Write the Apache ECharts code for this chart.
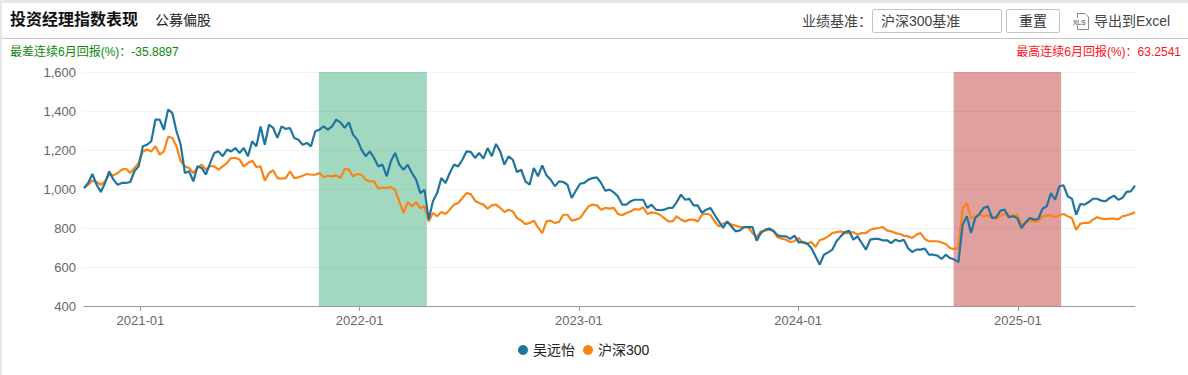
<!DOCTYPE html>
<html lang="zh-CN">
<head>
<meta charset="utf-8">
<title>投资经理指数表现</title>
<script src="https://cdn.jsdelivr.net/npm/echarts@6/dist/echarts.min.js"></script>
<style>
html,body{margin:0;padding:0;width:1188px;height:375px;overflow:hidden;background:#e6e6e6;font-family:"Liberation Sans","Noto Sans CJK SC",sans-serif;}
#card{position:absolute;left:2px;top:3px;width:1186px;height:372px;background:#fff;}
#chart{position:absolute;left:0;top:0;width:1188px;height:375px;}
.t{position:absolute;white-space:nowrap;line-height:1;}
#rule{position:absolute;left:2px;top:38px;width:1186px;height:1px;background:#c8c8c8;}
.box{position:absolute;box-sizing:border-box;border:1px solid #c4c4c4;border-radius:2px;background:#fff;}
</style>
</head>
<body>
<div id="card"></div>
<div id="chart"></div>
<div id="rule"></div>
<div class="t" style="left:10px;top:12px;font-size:16px;font-weight:bold;color:#111">投资经理指数表现</div>
<div class="t" style="left:155px;top:13px;font-size:14px;color:#222">公募偏股</div>
<div class="t" style="left:802px;top:14px;font-size:14px;color:#444">业绩基准：</div>
<div class="box" style="left:872px;top:9px;width:130px;height:24px"></div>
<div class="t" style="left:881px;top:14px;font-size:14px;color:#444">沪深300基准</div>
<div class="box" style="left:1006px;top:9px;width:54px;height:24px"></div>
<div class="t" style="left:1019px;top:14px;font-size:14px;color:#333">重置</div>
<svg style="position:absolute;left:1073px;top:13px" width="17" height="17" viewBox="0 0 17 17">
<path d="M4.5 .5H12L15.5 4V16.5H4.5V12M4.500 5V.5" fill="#fff" stroke="#888" stroke-width="1"/>
<text x="0" y="11.500" font-size="6.500" font-weight="bold" fill="#777" font-family="Liberation Sans">XLS</text>
</svg>
<div class="t" style="left:1094px;top:14px;font-size:14px;color:#444">导出到Excel</div>
<div class="t" style="left:10px;top:46px;font-size:12px;color:#0a8a0a">最差连续6月回报(%)：-35.8897</div>
<div class="t" style="right:7px;top:46px;font-size:12px;color:#ff1020">最高连续6月回报(%)：63.2541</div>
<script>
const seriesNames = ['吴远怡', '沪深300'];
const firstDate = '2020-09-29';
const stepDays = 7;
const tickLabels = ['2021-01', '2022-01', '2023-01', '2024-01', '2025-01'];
const worstSpan = ['2021-10-25', '2022-04-23'];
const bestSpan = ['2024-09-16', '2025-03-14'];
const wuYuanyi = [
1005,1031,1077,1022,985,1031,1091,1048,1022,1031,1031,1036,1091,1116,1219,1227,1245,1356,1356,1304,1407,1390,1296,1227,1082,1091,1039,1116,1108,1074,1133,1185,1193,1168,1202,1193,1210,1185,1210,1168,1245,1219,1321,
1227,1330,1313,1262,1321,1308,1313,1262,1253,1227,1236,1219,1296,1304,1321,1304,1321,1356,1342,1313,1342,1279,1253,1202,1168,1193,1159,1116,1125,1065,1142,1185,1125,1099,1125,1082,1048,979,996,843,937,
979,1056,1031,1082,1125,1116,1150,1193,1190,1159,1185,1156,1210,1168,1231,1193,1125,1168,1150,1087,1099,1039,1022,1108,1065,1121,1070,1048,1014,1039,1036,1022,954,991,1027,1031,1048,1056,1060,1031,991,997,
983,962,920,920,937,945,945,945,903,920,894,891,894,903,903,933,971,945,949,916,916,877,894,903,868,834,800,834,808,783,788,805,805,805,735,774,791,797,786,762,757,
757,744,761,726,728,720,697,655,612,663,675,689,732,757,779,786,740,757,723,689,740,744,744,737,737,723,740,732,740,697,677,689,689,694,663,663,658,641,663,646,638,625,
817,860,774,851,872,903,911,851,855,889,894,855,860,851,800,829,851,843,846,899,911,979,945,1014,1019,962,950,868,923,920,933,950,950,940,937,954,966,945,954,985,988,1017
];
const csi300 = [
1005,1022,1043,1036,1022,1039,1074,1070,1082,1099,1104,1082,1108,1133,1193,1202,1193,1219,1176,1193,1267,1263,1219,1142,1116,1108,1082,1108,1125,1099,1118,1116,1099,1116,1133,1159,1159,1151,1116,1133,1145,1113,1116,
1043,1082,1096,1056,1053,1056,1091,1056,1060,1068,1077,1073,1073,1082,1060,1068,1065,1070,1056,1103,1099,1065,1077,1073,1048,1039,1039,1002,1008,1005,1010,996,937,877,932,911,932,902,911,834,877,
860,882,872,894,920,928,954,979,974,940,928,920,899,916,920,903,882,894,885,851,838,820,826,838,803,774,834,838,826,831,868,868,838,843,851,882,911,920,916,894,903,899,
903,872,865,877,885,897,894,906,872,880,877,868,851,834,834,860,843,834,843,843,834,868,873,868,834,808,822,831,817,812,805,805,805,774,754,783,786,791,783,752,745,
740,728,732,749,723,720,728,703,737,744,757,774,779,783,774,774,779,766,774,774,791,797,800,805,788,783,774,769,761,757,749,766,774,744,732,732,732,726,718,697,692,697,
903,928,851,860,868,860,865,855,846,863,872,860,865,868,814,826,838,834,834,860,863,865,855,865,872,860,851,791,822,826,826,843,855,848,846,848,848,844,860,865,872,880
];
const yMin = 400, yMax = 1600, yStep = 200;

const dayMs = 864e5;
const t0 = Date.parse(firstDate);
const times = wuYuanyi.map((_, i) => t0 + i * stepDays * dayMs);
const pairs = vals => vals.map((v, i) => [times[i], v]);
const tickTimes = tickLabels.map(m => Date.parse(m + '-01'));
const iso = t => new Date(t).toISOString().slice(0, 7);

const chart = echarts.init(document.getElementById('chart'), null, {renderer: 'svg'});
const font = '"Liberation Sans","Noto Sans CJK SC",sans-serif';
chart.setOption({
  animation: false,
  textStyle: {fontFamily: font},
  grid: {left: 84, right: 53, top: 72, bottom: 69},
  legend: {
    data: seriesNames, top: 338, left: 513, icon: 'circle',
    itemWidth: 10, itemHeight: 10, itemGap: 8,
    textStyle: {fontSize: 14, color: '#222', fontFamily: font}
  },
  xAxis: {
    type: 'value', min: times[0], max: times[times.length - 1],
    axisLine: {lineStyle: {color: '#999', width: 1}},
    axisTick: {length: 5, lineStyle: {color: '#999'}, customValues: tickTimes},
    axisLabel: {customValues: tickTimes, formatter: v => iso(v), color: '#666', fontSize: 13, margin: 8, hideOverlap: false},
    splitLine: {show: false}
  },
  yAxis: {
    type: 'value', min: yMin, max: yMax, interval: yStep,
    axisLine: {show: false}, axisTick: {show: false},
    axisLabel: {color: '#666', fontSize: 13, margin: 8, formatter: v => v.toLocaleString('en-US')},
    splitLine: {lineStyle: {color: '#e6e6e6', type: 'dotted'}}
  },
  series: [
    {
      name: seriesNames[0], type: 'line', data: pairs(wuYuanyi), showSymbol: false, z: 3,
      color: '#20759f', lineStyle: {width: 2.2, color: '#20759f'},
      markArea: {
        silent: true,
        data: [
          [{xAxis: Date.parse(worstSpan[0]), itemStyle: {color: 'rgba(25,158,98,0.4)'}}, {xAxis: Date.parse(worstSpan[1])}],
          [{xAxis: Date.parse(bestSpan[0]), itemStyle: {color: 'rgba(178,18,18,0.4)'}}, {xAxis: Date.parse(bestSpan[1])}]
        ]
      }
    },
    {
      name: seriesNames[1], type: 'line', data: pairs(csi300), showSymbol: false, z: 2,
      color: '#fb8416', lineStyle: {width: 2.2, color: '#fb8416'}
    }
  ]
});
</script>
</body>
</html>
